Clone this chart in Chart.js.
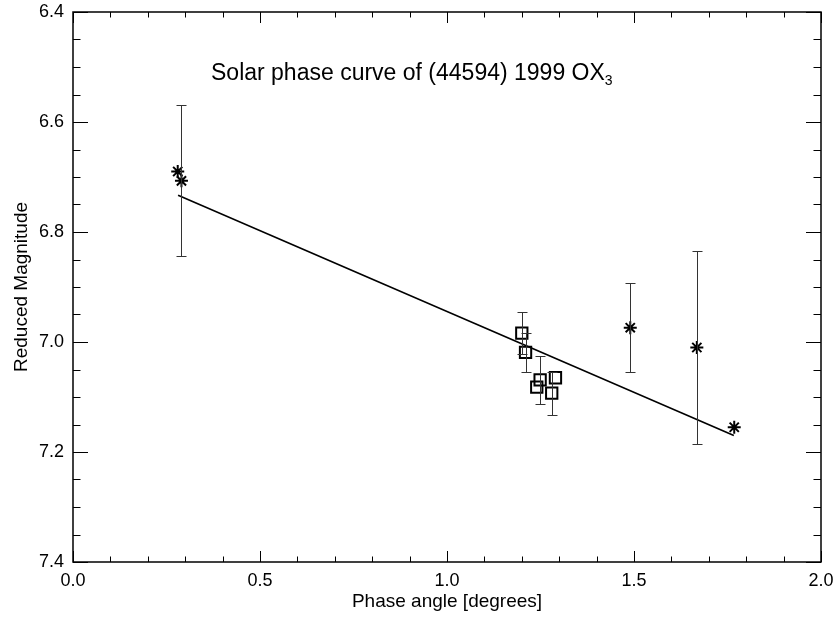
<!DOCTYPE html>
<html>
<head>
<meta charset="utf-8">
<script src="https://cdn.jsdelivr.net/npm/chart.js@4"></script>
<style>
  html, body { margin: 0; padding: 0; background: #fff; }
  #wrap { width: 837px; height: 618px; }
</style>
</head>
<body>
<div id="wrap"><canvas id="phase-canvas" width="837" height="618"></canvas></div>
<script>
// values
var phaseStar = [0.280, 0.290, 1.490, 1.668, 1.768];
var magStar   = [6.690, 6.707, 6.974, 7.010, 7.155];
var errStar   = [0, 0.137, 0.081, 0.175, 0];

var phaseBox = [1.200, 1.210, 1.240, 1.249, 1.280, 1.290];
var magBox   = [6.984, 7.019, 7.082, 7.069, 7.093, 7.065];
var errBox   = [0.038, 0.036, 0, 0.043, 0.039, 0];

var fitPhase = [0.281, 1.767];
var fitMag   = [6.733, 7.170];

var xTickLabels = ['0.0', '0.5', '1.0', '1.5', '2.0'];
var yTickLabels = ['6.4', '6.6', '6.8', '7.0', '7.2', '7.4'];

var fontName = '"Liberation Sans", Arial, Helvetica, sans-serif';

function toPoints(xs, ys) {
    return xs.map(function(x, i) { return { x: x, y: ys[i] }; });
}

// IDL-style box with inward ticks, error bars and the title inside the plot
var boxPlugin = {
    id: 'idlBox',
    afterDatasetsDraw: function(chart) {
        var ctx = chart.ctx;
        var xs = chart.scales.x, ys = chart.scales.y;
        var a = chart.chartArea;
        ctx.save();
        ctx.lineWidth = 1;

        // error bars
        function bars(px, py, pe) {
            px.forEach(function(p, i) {
                if (!pe[i]) return;
                var x = Math.round(xs.getPixelForValue(p)) + 0.5;
                var y1 = Math.round(ys.getPixelForValue(py[i] - pe[i])) + 0.5;
                var y2 = Math.round(ys.getPixelForValue(py[i] + pe[i])) + 0.5;
                ctx.beginPath();
                ctx.moveTo(x, y1); ctx.lineTo(x, y2);
                ctx.moveTo(x - 5, y1); ctx.lineTo(x + 5, y1);
                ctx.moveTo(x - 5, y2); ctx.lineTo(x + 5, y2);
                ctx.stroke();
            });
        }
        ctx.strokeStyle = '#333';
        bars(phaseStar, magStar, errStar);
        bars(phaseBox, magBox, errBox);

        // frame
        ctx.strokeStyle = '#000';
        ctx.lineWidth = 1.5;
        ctx.strokeRect(a.left, a.top, a.right - a.left, a.bottom - a.top);

        ctx.lineWidth = 1;
        ctx.beginPath();
        for (var i = 0; i <= 20; i++) {
            var x = Math.round(xs.getPixelForValue(i / 10)) + 0.5;
            var len = (i % 5 === 0) ? 11 : 5.5;
            ctx.moveTo(x, a.bottom); ctx.lineTo(x, a.bottom - len);
            ctx.moveTo(x, a.top); ctx.lineTo(x, a.top + len);
        }
        for (var j = 0; j <= 20; j++) {
            var y = Math.round(ys.getPixelForValue(6.4 + j * 0.05)) + 0.5;
            var leny = (j % 4 === 0) ? 15 : 7.5;
            ctx.moveTo(a.left, y); ctx.lineTo(a.left + leny, y);
            ctx.moveTo(a.right, y); ctx.lineTo(a.right - leny, y);
        }
        ctx.stroke();

        // title with subscript
        ctx.fillStyle = '#000';
        ctx.textBaseline = 'alphabetic';
        ctx.textAlign = 'left';
        ctx.font = '23px ' + fontName;
        var main = 'Solar phase curve of (44594) 1999 OX';
        var tx = 211, ty = 80;
        ctx.fillText(main, tx, ty);
        var w = ctx.measureText(main).width;
        ctx.font = '14px ' + fontName;
        ctx.fillText('3', tx + w, ty + 5);
        ctx.restore();
    }
};

var chart = new Chart(document.getElementById('phase-canvas'), {
    type: 'scatter',
    data: {
        datasets: [
            {
                label: 'fit',
                type: 'line',
                data: toPoints(fitPhase, fitMag),
                borderColor: '#000',
                borderWidth: 1.6,
                pointRadius: 0,
                fill: false
            },
            {
                label: 'stars',
                data: toPoints(phaseStar, magStar),
                pointStyle: 'star',
                pointRadius: 6.5,
                borderColor: '#000',
                backgroundColor: '#000',
                borderWidth: 2
            },
            {
                label: 'boxes',
                data: toPoints(phaseBox, magBox),
                pointStyle: 'rect',
                pointRadius: 8,
                borderColor: '#000',
                backgroundColor: 'rgba(0,0,0,0)',
                borderWidth: 2
            }
        ]
    },
    options: {
        responsive: false,
        animation: false,
        layout: { padding: { top: 12, right: 16, left: 0, bottom: 0 } },
        plugins: {
            legend: { display: false },
            tooltip: { enabled: false }
        },
        scales: {
            x: {
                type: 'linear',
                min: 0,
                max: 2,
                grid: { display: false, drawTicks: false, tickLength: 0 },
                border: { display: false },
                ticks: {
                    stepSize: 0.5,
                    padding: 8,
                    color: '#000',
                    font: { family: fontName, size: 18 },
                    maxRotation: 0,
                    callback: function(v) { return xTickLabels[Math.round(v / 0.5)]; }
                },
                title: {
                    display: true,
                    text: 'Phase angle [degrees]',
                    color: '#000',
                    font: { family: fontName, size: 19 },
                    padding: { top: 0, bottom: 5 }
                },
                afterFit: function(s) {
                    s.height = 56;
                    s.paddingLeft = 0;
                    s.paddingRight = 0;
                }
            },
            y: {
                type: 'linear',
                min: 6.4,
                max: 7.4,
                reverse: true,
                grid: { display: false, drawTicks: false, tickLength: 0 },
                border: { display: false },
                ticks: {
                    stepSize: 0.2,
                    padding: 9,
                    color: '#000',
                    font: { family: fontName, size: 18 },
                    callback: function(v) { return yTickLabels[Math.round((v - 6.4) / 0.2)]; }
                },
                title: {
                    display: true,
                    text: 'Reduced Magnitude',
                    color: '#000',
                    font: { family: fontName, size: 19 },
                    padding: { top: 10, bottom: 0 }
                },
                afterFit: function(s) {
                    s.width = 73;
                    s.paddingTop = 0;
                    s.paddingBottom = 0;
                }
            }
        }
    },
    plugins: [boxPlugin]
});
</script>
</body>
</html>
